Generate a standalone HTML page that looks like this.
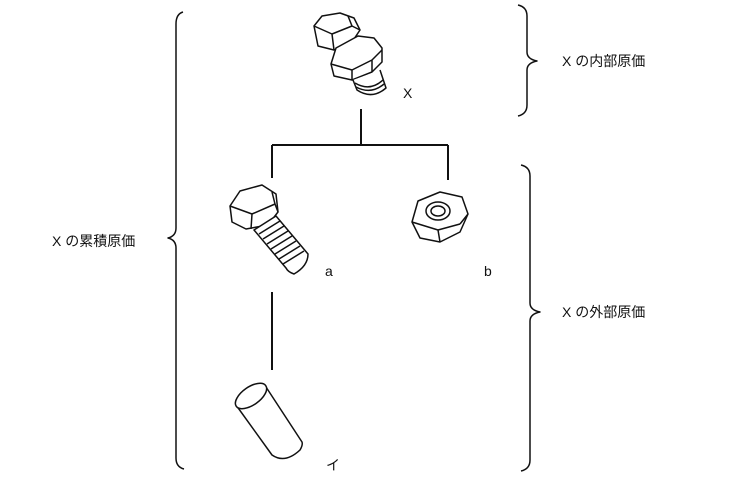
<!DOCTYPE html>
<html><head><meta charset="utf-8"><style>
body{margin:0;background:#fff;width:731px;height:483px;overflow:hidden}
text{font-family:"Liberation Sans","Noto Sans CJK JP",sans-serif;fill:#111}
</style></head><body>
<svg width="731" height="483" viewBox="0 0 731 483" fill="none" stroke="#111" stroke-width="1.5" stroke-linejoin="round">
<path d="M183 12 Q176 14 176 24 L176 228 Q176 236 168 238 Q176 240 176 248 L176 458 Q176 467 184 469"/>
<path d="M518 5 Q527 7 527 16 L527 52 Q527 59 537 61 Q527 63 527 70 L527 105 Q527 114 518 116"/>
<path d="M521 165 Q530 167 530 176 L530 303 Q530 310 540 312 Q530 314 530 321 L530 460 Q530 469 521 471"/>
<path d="M361 109 V145 M272 145 H448 M272 145 V178 M448 145 V180" stroke-width="2"/>
<path d="M272 292 V370" stroke-width="2"/>
<!-- X assembly -->
<g>
<path d="M314 26 L322 16 L340 13 L354 18 L360 30 L352 42 L334 50 L318 46 Z" fill="#fff"/>
<path d="M314 26 L332 34 L352 26 M332 34 L334 50 M352 26 L360 30 M352 26 L348 16"/>
<path d="M336 48 Q348 58 366 46 M337 54 Q350 62 368 52" />
<path d="M331 64 L336 48 L358 36 L374 38 L382 48 L382 62 L372 72 L352 80 L334 76 Z" fill="#fff"/>
<path d="M331 64 L352 70 L372 60 M352 70 L352 80 M372 60 L382 50 M372 60 L372 72"/>
<path d="M353 80 L357 90 Q372 100 386 88 L380 70" fill="#fff"/>
<path d="M355 83 Q370 92 383 80 M356 87 Q371 95 384 84"/>
</g>
<!-- bolt a -->
<g>
<path d="M230 206 L240 191 L262 185 L276 194 L278 212 L268 225 L246 229 L232 222 Z" fill="#fff"/>
<path d="M230 206 L252 214 L275 204 M252 214 L251 229 M275 204 L278 212 M275 204 L272 192"/>
<path d="M254 230 L276 216 L308 254 Q308 266 294 274 Q288 272 286 268 Z" fill="#fff"/>
<path d="M259 234 L280 221 M263 239 L284 226 M267 244 L288 231 M271 249 L292 236 M275 254 L296 241 M279 259 L300 246 M283 264 L304 251"/>
</g>
<!-- nut b -->
<g>
<path d="M412 222 L418 201 L440 192 L462 197 L468 214 L460 232 L440 242 L420 238 Z" fill="#fff"/>
<path d="M412 222 L438 230 L460 224 M438 230 L440 242 M460 224 L468 214"/>
<ellipse cx="438" cy="211" rx="12" ry="9"/>
<ellipse cx="438" cy="211" rx="7" ry="5"/>
</g>
<!-- cylinder イ -->
<g>
<path d="M236 405 L272 455 Q285 464 300 450 Q303 445 302 442 L266 387" fill="#fff"/>
<ellipse cx="251" cy="396" rx="18" ry="9" transform="rotate(-35 251 396)" fill="#fff"/>
</g>
<g stroke="none" font-size="14">
<text x="403" y="98">X</text>
<text x="325" y="276">a</text>
<text x="484" y="276">b</text>
<text x="326" y="470">イ</text>
<text x="562" y="66">X の内部原価</text>
<text x="52" y="246">X の累積原価</text>
<text x="562" y="317">X の外部原価</text>
</g>
</svg>
</body></html>
